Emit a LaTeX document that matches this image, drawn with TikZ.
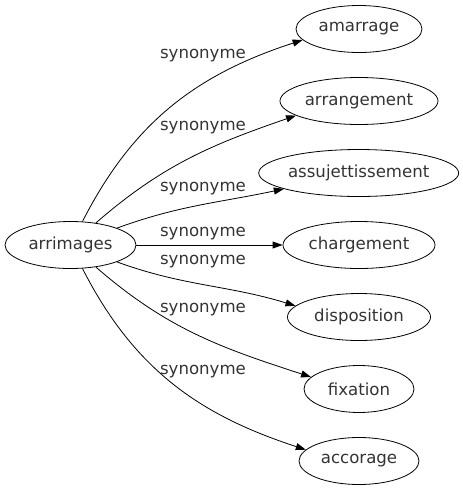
\documentclass[tikz,border=0pt]{standalone}
\usepackage{fontspec}
\setmainfont{DejaVu Sans}
\usetikzlibrary{shapes.geometric}
\usetikzlibrary{arrows.meta}

\begin{document}
\begin{tikzpicture}[x=1pt,y=1pt,
    word/.style={draw,ellipse,line width=0.8pt,inner sep=0pt,
      minimum height=47pt,text=black!80,font=\fontsize{16.6}{20}\selectfont},
    rel/.style={inner sep=0pt,text=black!80,font=\fontsize{16.6}{20}\selectfont},
    syn/.style={line width=0.8pt,-{Triangle[length=10pt,width=7pt]}}]
    \useasboundingbox (0,0) rectangle (463,-491);
    \node[word,minimum width=131pt] (arrimages) at (70.5,-245) {arrimages};
    \node[word,minimum width=126pt] (amarrage) at (359,-29) {amarrage};
    \node[word,minimum width=158pt] (arrangement) at (359,-101) {arrangement};
    \node[word,minimum width=196pt] (assujettissement) at (358.7,-173) {assujettissement};
    \node[word,minimum width=152pt] (chargement) at (359,-245) {chargement};
    \node[word,minimum width=143pt] (disposition) at (359,-317) {disposition};
    \node[word,minimum width=110pt] (fixation) at (359,-389) {fixation};
    \node[word,minimum width=120pt] (accorage) at (359,-461) {accorage};
    \draw[syn] (arrimages)
      to [out=63,in=198] (amarrage.191);
    \draw[syn] (arrimages)
      to [out=41,in=199] (arrangement.193);
    \draw[syn] (arrimages)
      to [out=20,in=192] (assujettissement.192);
    \draw[syn] (arrimages) -- (chargement);
    \draw[syn] (arrimages)
      to [out=-20,in=163] (disposition.170);
    \draw[syn] (arrimages)
      to [out=-41,in=162] (fixation.166);
    \draw[syn] (arrimages)
      to [out=-63,in=162] (accorage.168);
    \node[rel] (s1) at (203,-56) {synonyme};
    \node[rel] (s2) at (203,-128) {synonyme};
    \node[rel] (s3) at (203,-189) {synonyme};
    \node[rel] (s4) at (203,-234) {synonyme};
    \node[rel] (s5) at (203,-262) {synonyme};
    \node[rel] (s6) at (203,-310) {synonyme};
    \node[rel] (s7) at (203,-371.5) {synonyme};
  \end{tikzpicture}
\end{document}
